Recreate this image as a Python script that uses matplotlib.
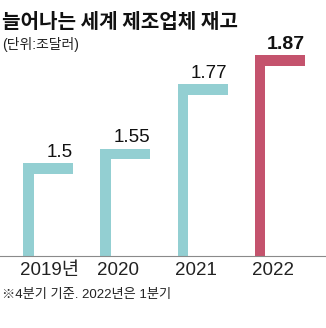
import numpy as np
import matplotlib.pyplot as plt
from matplotlib.patches import Rectangle
import matplotlib.transforms as mtransforms

# data (unit: trillion dollars)
years = ['2019년', '2020', '2021', '2022']
values = [1.5, 1.55, 1.77, 1.87]
value_labels = ['1.5', '1.55', '1.77', '1.87']

teal = '#93cfd2'
pink = '#c4536d'
bar_colors = [teal, teal, teal, pink]

num_font = ['Liberation Sans', 'Noto Sans CJK KR', 'DejaVu Sans']
kr_font = ['Noto Sans CJK KR', 'DejaVu Sans']

W, H = 326, 328
fig = plt.figure(figsize=(W / 100, H / 100), dpi=100)
ax = fig.add_axes([0, 72 / H, 1, 256 / H])

# axis is truncated: baseline sits around 1.18
step = 77.3
ymin = 1.182
ax.set_xlim(-23 / step, (W - 23) / step)
ax.set_ylim(ymin, ymin + 256 / 292)

bar_w = 50 / step
stroke_x = 10.5 / step
stroke_y = 10.5 / 292

x = np.arange(len(values))
for xi, v, c in zip(x, values, bar_colors):
    # each bar is drawn as an L-shape: a left post and a top beam
    ax.add_patch(Rectangle((xi, ymin), stroke_x, v - ymin, color=c, lw=0))
    ax.add_patch(Rectangle((xi, v - stroke_y), bar_w, stroke_y, color=c, lw=0))

for i, (xi, v, lab) in enumerate(zip(x, values, value_labels)):
    last = i == len(values) - 1
    ax.annotate(lab, (xi + bar_w, v), xytext=(0, 4.5), textcoords='offset points',
                ha='right', va='baseline', family=num_font,
                fontsize=14 if last else 13.5, fontweight='bold' if last else 'normal',
                color='#111111')

for s in ['top', 'left', 'right']:
    ax.spines[s].set_visible(False)
ax.spines['bottom'].set_color('#8a8a8a')
ax.spines['bottom'].set_linewidth(0.8)
ax.set_yticks([])
ax.set_xticks(x)
ax.set_xticklabels(years, ha='left', family=num_font, fontsize=13.5, color='#222222')
ax.tick_params(axis='x', length=0, pad=4.5)
shift = mtransforms.ScaledTranslation(-3 / 100, 0, fig.dpi_scale_trans)
for t in ax.get_xticklabels():
    t.set_transform(t.get_transform() + shift)

fig.text(2 / W, 1 - 21 / H, '늘어나는 세계 제조업체 재고', family=kr_font, fontsize=14.5,
         fontweight='bold', va='center', ha='left', color='#111111')
fig.text(2 / W, 1 - 45 / H, '(단위:조달러)', family=num_font, fontsize=10,
         va='center', ha='left', color='#222222')
fig.text(2 / W, 1 - 295 / H, '※4분기 기준. 2022년은 1분기', family=num_font, fontsize=9.5,
         va='center', ha='left', color='#222222')

fig.savefig('out.png', dpi=100)
